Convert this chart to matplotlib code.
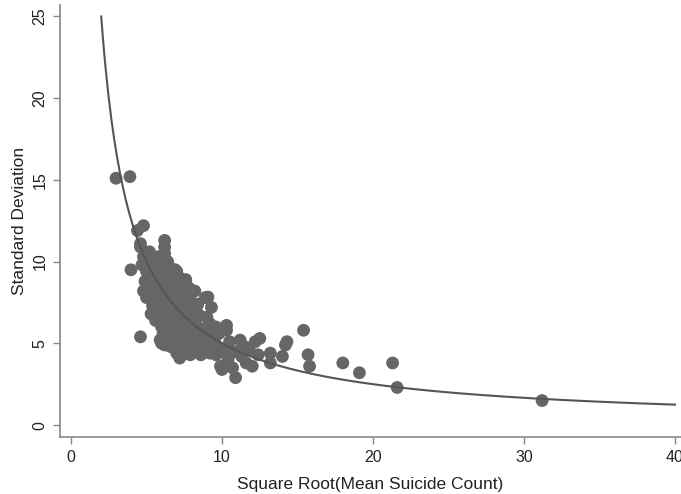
import numpy as np
import matplotlib
matplotlib.use("Agg")
import matplotlib.pyplot as plt

plt.rcParams['font.family'] = ['Liberation Sans', 'DejaVu Sans']

# scatter data: sqrt(mean suicide count) vs standard deviation
pts_x = [
    2.98, 3.9, 4.4, 4.8, 4.6, 6.2, 6.2, 6.2, 3.97, 4.6,
    4.6, 4.8, 4.7, 5.0, 4.9, 5.0, 4.8,
    5.2, 5.3, 5.4, 5.2, 5.5, 5.3, 5.6, 5.4, 5.5, 5.6, 5.3,
    5.8, 6.0, 5.9, 6.1, 5.8, 6.0, 6.2, 5.9, 6.1, 6.0, 5.8, 6.2, 6.0, 6.1, 5.9, 6.2, 6.0,
    6.4, 6.6, 6.5, 6.7, 6.4, 6.6, 6.8, 6.5, 6.7, 6.4, 6.6, 6.8, 6.5, 6.7, 6.4, 6.6, 6.8, 6.9,
    7.0, 7.2, 7.1, 7.3, 7.0, 7.2, 7.4, 7.1, 7.3, 7.0, 7.2, 7.4, 7.1, 7.3, 7.0, 7.2,
    7.6, 7.8, 7.7, 7.9, 7.6, 7.8, 8.0, 7.7, 7.9, 7.6, 7.8, 8.0, 7.7, 7.9,
    8.2, 8.4, 8.3, 8.5, 8.2, 8.4, 8.6, 8.3, 8.5, 8.2, 8.6,
    8.9, 9.3, 9.0, 9.2, 8.9, 9.1, 8.8, 9.0, 9.2, 9.07,
    9.6, 9.8, 9.5, 9.7, 10.0, 9.6, 9.9, 10.0,
    10.3, 10.3, 10.5, 10.2, 10.6, 10.4, 10.7, 10.9,
    11.2, 11.5, 11.0, 11.3, 11.6, 12.0, 12.2, 12.5, 11.8, 12.4,
    13.2, 13.2, 14.0, 14.2, 14.3, 15.4, 15.7, 15.8,
    18.0, 19.1, 21.3, 21.6, 31.2,
]
pts_y = [
    15.1, 15.2, 11.9, 12.2, 11.1, 11.3, 10.9, 10.5, 9.5, 5.4,
    10.9, 10.3, 9.8, 9.4, 8.8, 7.8, 8.2,
    10.6, 10.0, 9.6, 9.1, 8.7, 8.3, 7.9, 7.3, 7.0, 6.4, 6.8,
    10.3, 9.9, 9.4, 9.1, 8.8, 8.5, 8.2, 7.8, 7.5, 7.1, 6.7, 6.4, 6.0, 5.6, 5.2, 4.9, 5.0,
    10.0, 9.6, 9.2, 8.9, 8.6, 8.3, 8.0, 7.7, 7.3, 7.0, 6.6, 6.3, 5.9, 5.5, 5.2, 4.8, 5.1, 9.5,
    9.4, 9.0, 8.6, 8.3, 7.9, 7.6, 7.2, 6.9, 6.5, 6.2, 5.8, 5.5, 5.1, 4.7, 4.4, 4.1,
    8.9, 8.4, 8.0, 7.6, 7.3, 6.9, 6.6, 6.3, 5.9, 5.6, 5.2, 4.9, 4.6, 4.3,
    8.2, 7.4, 7.0, 6.7, 6.3, 6.0, 5.6, 5.3, 4.9, 4.5, 4.3,
    7.8, 7.2, 6.6, 6.2, 5.9, 5.5, 5.1, 4.7, 4.4, 7.83,
    6.0, 5.6, 5.2, 4.8, 4.5, 4.3, 3.6, 3.4,
    6.1, 5.8, 5.1, 4.7, 4.4, 4.0, 3.5, 2.9,
    5.2, 4.8, 4.5, 4.2, 3.8, 3.6, 5.1, 5.3, 4.6, 4.3,
    4.4, 3.8, 4.2, 4.9, 5.1, 5.8, 4.3, 3.6,
    3.8, 3.2, 3.8, 2.3, 1.5,
]

# fitted curve: SD = 50 / sqrt(mean)
curve_x = np.linspace(2, 40, 400)
curve_y = 50.0 / curve_x

x_ticks = [0, 10, 20, 30, 40]
y_ticks = [0, 5, 10, 15, 20, 25]

fig = plt.figure(figsize=(6.81, 4.94), dpi=100)
ax = fig.add_axes([60/681, 1-437/494, 621/681, 432/494])

ax.scatter(pts_x, pts_y, s=85, color='#666666', edgecolors='none', zorder=2)
ax.plot(curve_x, curve_y, color='#555555', lw=1.5, zorder=3)

ax.set_xlim(-0.73, 40.4)
ax.set_ylim(-0.73, 25.7)
ax.set_xticks(x_ticks)
ax.set_yticks(y_ticks)
ax.set_yticklabels([str(t) for t in y_ticks], rotation=90, va='center')

for s in ['top', 'right']:
    ax.spines[s].set_visible(False)
for s in ['left', 'bottom']:
    ax.spines[s].set_color('#888888')
    ax.spines[s].set_linewidth(1.2)
ax.tick_params(axis='both', colors='#888888', length=5, width=1, labelsize=11.5,
               labelcolor='#222222', pad=4)

ax.set_xlabel('Square Root(Mean Suicide Count)', fontsize=12.5, color='#222222', labelpad=9)
ax.set_ylabel('Standard Deviation', fontsize=12.5, color='#222222', labelpad=4)

fig.savefig('out.png', dpi=100)
